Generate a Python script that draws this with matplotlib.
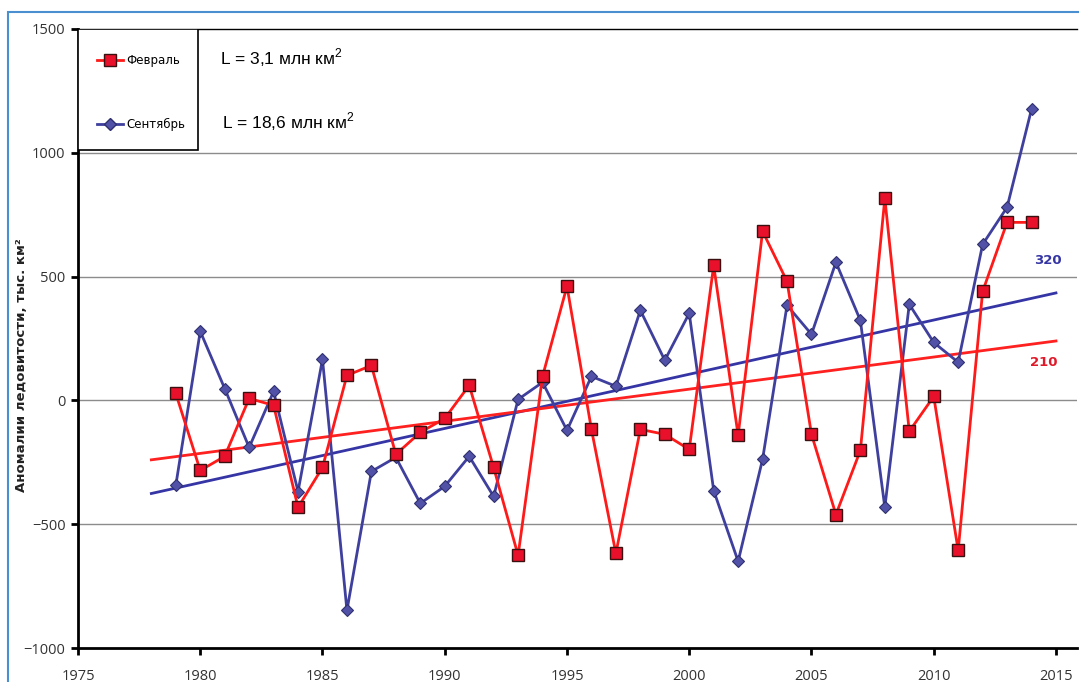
import matplotlib
matplotlib.use("Agg")
import matplotlib.pyplot as plt
from matplotlib.lines import Line2D
from matplotlib.patches import Rectangle

years = list(range(1979, 2015))
feb = [28, -283, -226, 8, -20, -432, -271, 101, 141, -218, -129, -73, 61, -271,
       -626, 97, 461, -117, -618, -117, -137, -198, 545, -141, 683, 481, -137,
       -461, -202, 816, -125, 16, -606, 440, 719, 719]
sep = [-343, 279, 48, -190, 36, -368, 166, -848, -287, -230, -416, -347, -226,
       -388, 4, 73, -121, 97, 57, 364, 162, 352, -364, -650, -238, 384, 267,
       558, 323, -432, 388, 234, 154, 630, 780, 1176]
trend_years = [1978, 2015]
feb_trend = [-240, 240]
sep_trend = [-376, 434]
trend_labels = ["210", "320"]
series_labels = ["Февраль", "Сентябрь"]
area_notes = ["L = 3,1 млн км$^2$", "L = 18,6 млн км$^2$"]
xticks = [1975, 1980, 1985, 1990, 1995, 2000, 2005, 2010, 2015]
yticks = [-1000, -500, 0, 500, 1000, 1500]

RED = "#ff1a1a"
RED_FILL = "#e8102a"
BLUE = "#3f3f9e"
BLUE_FILL = "#5151a8"

plt.rcParams["mathtext.fontset"] = "custom"
plt.rcParams["mathtext.rm"] = "Liberation Sans"

fig = plt.figure(figsize=(10.79, 6.82), dpi=100)
fig.patch.set_facecolor("white")
fig.add_artist(Rectangle((8 / 1079, -0.05), 1.2, 1 - 12 / 682 + 0.05,
                         transform=fig.transFigure, fill=False,
                         edgecolor="#4a90d0", linewidth=1.5))

ax = fig.add_axes([78 / 1079, 1 - 648 / 682, 999 / 1079, 619 / 682])
ax.set_xlim(1975, 2015.86)
ax.set_ylim(-1000, 1500)

for v in yticks:
    if -1000 < v < 1500:
        ax.axhline(v, color="#8c8c8c", lw=1.0, zorder=1)

ax.plot(trend_years, sep_trend, color="#3535a5", lw=2.0, zorder=2)
ax.plot(trend_years, feb_trend, color="#ff2020", lw=2.0, zorder=2)

ax.plot(years, sep, color=BLUE, lw=2.0, marker="D", markersize=6,
        markerfacecolor=BLUE_FILL, markeredgecolor="#30306f",
        markeredgewidth=0.8, zorder=3)
ax.plot(years, feb, color=RED, lw=2.0, marker="s", markersize=8.5,
        markerfacecolor=RED_FILL, markeredgecolor="#3a1010",
        markeredgewidth=1.0, zorder=4)

ax.text(2014.65, sep_trend[1] + 130, trend_labels[1], color="#3535a5",
        fontsize=9.5, fontweight="bold", ha="center", va="center",
        family="DejaVu Sans")
ax.text(2014.5, feb_trend[1] - 85, trend_labels[0], color="#e01a2a",
        fontsize=9.5, fontweight="bold", ha="center", va="center",
        family="DejaVu Sans")

ax.spines["right"].set_visible(False)
ax.spines["top"].set_linewidth(1.0)
ax.spines["left"].set_linewidth(2.0)
ax.spines["bottom"].set_linewidth(2.0)

ax.set_xticks(xticks)
ax.set_yticks(yticks)
ax.set_yticklabels([str(v).replace("-", "\u2212") for v in yticks])
ax.tick_params(axis="both", direction="out", length=5, width=2,
               labelsize=10.5, labelcolor="#333333", colors="black")
ax.tick_params(axis="x", pad=10)
ax.tick_params(axis="y", pad=4)
for lbl in ax.get_xticklabels() + ax.get_yticklabels():
    lbl.set_family("Open Sans")
    lbl.set_color("#333333")

ax.set_ylabel("Аномалии ледовитости, тыс. км²", fontsize=9.5,
              fontweight="bold", family="DejaVu Sans", color="#222222")
ax.yaxis.set_label_coords(-56 / 999, 0.457)
ax.yaxis.label.set_va("center")

# legend box
ax.add_patch(Rectangle((0, 1 - 121 / 619), 120 / 999, 121 / 619,
                       transform=ax.transAxes, facecolor="white",
                       edgecolor="black", lw=1.2, zorder=5))
handles = [
    Line2D([], [], color=RED, lw=2, marker="s", markersize=8,
           markerfacecolor=RED_FILL, markeredgecolor="#3a1010"),
    Line2D([], [], color=BLUE, lw=2, marker="D", markersize=6,
           markerfacecolor=BLUE_FILL, markeredgecolor="#30306f"),
]
leg = ax.legend(handles, series_labels, loc="upper left",
                bbox_to_anchor=(0.008, 0.977), frameon=False,
                handlelength=2.2, handletextpad=0.3, labelspacing=4.35,
                prop={"family": "DejaVu Sans", "size": 8.5})
leg.set_zorder(6)

ax.text(142 / 999, 1 - 29 / 619, area_notes[0], transform=ax.transAxes,
        fontsize=12.5, family="Liberation Sans", va="center", ha="left",
        zorder=6)
ax.text(144 / 999, 1 - 93 / 619, area_notes[1], transform=ax.transAxes,
        fontsize=12.5, family="Liberation Sans", va="center", ha="left",
        zorder=6)

fig.savefig("out.png", dpi=100)
